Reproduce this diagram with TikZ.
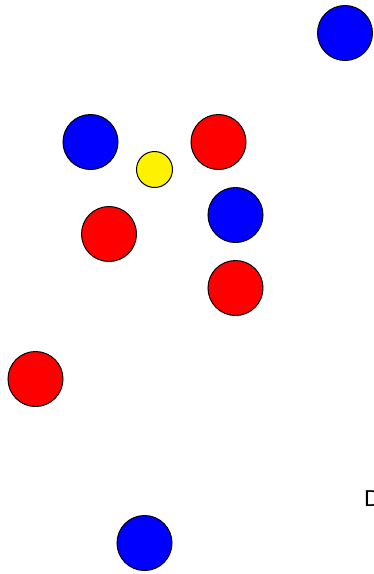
\documentclass[tikz,border=0pt]{standalone}
\usepackage{fontspec}
\setmainfont{Liberation Sans}
\usepackage{tikz}

\tikzset{
    ball/.style={circle, draw=black, line width=1pt, inner sep=0pt, minimum size=55pt},
    blueball/.style={ball, fill=blue},
    redball/.style={ball, fill=red},
    yellowball/.style={circle, draw=black, line width=1pt, inner sep=0pt, minimum size=36pt, fill=yellow}
}

\begin{document}
\begin{tikzpicture}[x=1pt, y=-1pt]
    \useasboundingbox (0,0) rectangle (374,574);
    % Bolas azules
    \node[blueball] (b1) at (345,33) {};
    \node[blueball] (b2) at (90.5,142) {};
    \node[blueball] (b3) at (235.5,215) {};
    \node[blueball] (b4) at (144.5,543) {};
    
    % Bolas rojas
    \node[redball] (r1) at (218.5,142) {};
    \node[redball] (r2) at (109,234) {};
    \node[redball] (r3) at (235.5,288) {};
    \node[redball] (r4) at (35.5,379) {};
    
    % Bola amarilla
    \node[yellowball] (y1) at (154.5,169.5) {};
    
    % Texto
    \node[anchor=base west, inner sep=0pt, font=\fontsize{23}{28}\selectfont] (D) at (364,506) {D};
\end{tikzpicture}
\end{document}
